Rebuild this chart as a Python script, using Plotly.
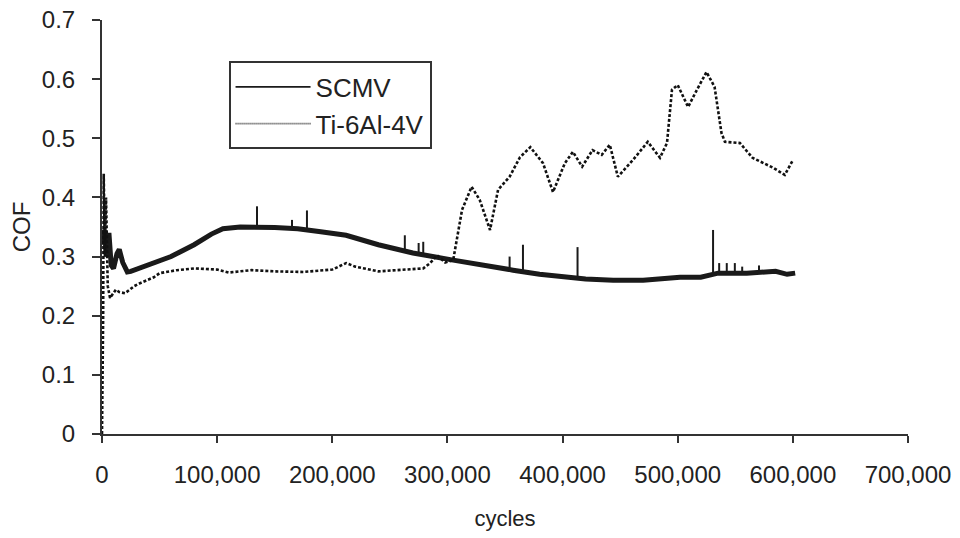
import plotly.graph_objects as go

# ---------------- data ----------------
scmv_x = [0, 2000, 4000, 6000, 8000, 10000, 13000, 15000, 18000, 22000, 25000,
          40000, 60000, 80000, 95000, 105000, 120000, 150000, 170000, 190000,
          212000, 240000, 270000, 305000, 330000, 357000, 380000, 400000,
          420000, 444000, 470000, 502000, 520000, 535000, 560000, 585000,
          595000, 602000]
scmv_y = [0.32, 0.345, 0.30, 0.34, 0.285, 0.28, 0.305, 0.312, 0.29, 0.274, 0.275,
          0.285, 0.30, 0.32, 0.338, 0.347, 0.35, 0.349, 0.347, 0.342,
          0.336, 0.32, 0.306, 0.294, 0.285, 0.277, 0.27, 0.266,
          0.262, 0.26, 0.26, 0.265, 0.265, 0.272, 0.272, 0.275,
          0.27, 0.272]

spike_x = [134600, 165000, 178000, 263000, 275000, 279000, 354000, 365600,
           413000, 530700, 536000, 542600, 549600, 556000, 570600]
spike_base = [0.349, 0.347, 0.345, 0.31, 0.305, 0.303, 0.277, 0.274,
              0.264, 0.27, 0.271, 0.272, 0.272, 0.272, 0.273]
spike_top = [0.385, 0.362, 0.378, 0.336, 0.323, 0.325, 0.300, 0.320,
             0.316, 0.345, 0.289, 0.289, 0.289, 0.283, 0.285]

ti_x = [0, 1000, 1500, 2500, 3500, 5000, 7000, 9000, 12000, 15000, 20000,
        28000, 33000, 45000, 50000, 65000, 80000, 100000, 110000, 130000,
        150000, 175000, 200000, 212000, 220000, 240000, 260000, 279000,
        285000, 291000, 298000, 305000, 312700, 321000, 328000, 337000,
        344000, 354000, 363000, 372000, 383000, 391700, 402000, 409000,
        417000, 426000, 434000, 441000, 448000, 461000, 474000, 484600,
        490700, 495000, 500000, 509000, 516700, 525000, 532000, 538000,
        541000, 554000, 565000, 583000, 593000, 600000]
ti_y = [0.0, 0.20, 0.44, 0.30, 0.40, 0.25, 0.23, 0.235, 0.244, 0.24, 0.238,
        0.25, 0.255, 0.265, 0.272, 0.277, 0.28, 0.278, 0.273, 0.277,
        0.275, 0.274, 0.278, 0.289, 0.283, 0.275, 0.277, 0.28,
        0.289, 0.302, 0.29, 0.294, 0.379, 0.418, 0.396, 0.345,
        0.413, 0.435, 0.468, 0.485, 0.458, 0.409, 0.458, 0.477,
        0.452, 0.480, 0.472, 0.489, 0.435, 0.463, 0.494, 0.467,
        0.492, 0.582, 0.590, 0.553, 0.582, 0.612, 0.587, 0.509,
        0.494, 0.492, 0.467, 0.450, 0.438, 0.463]

x_tickvals = [0, 100000, 200000, 300000, 400000, 500000, 600000, 700000]
x_ticktext = ["0", "100,000", "200,000", "300,000", "400,000", "500,000",
              "600,000", "700,000"]
y_tickvals = [0, 0.1, 0.2, 0.3, 0.4, 0.5, 0.6, 0.7]
y_ticktext = ["0", "0.1", "0.2", "0.3", "0.4", "0.5", "0.6", "0.7"]

# ---------------- figure ----------------
FONT = "Liberation Sans, Arial, sans-serif"
INK = "#1a1a1a"
fig = go.Figure()

# spikes of SCMV (segments separated by None)
sx, sy = [], []
for x, b, t in zip(spike_x, spike_base, spike_top):
    sx += [x, x, None]
    sy += [b, t, None]

fig.add_trace(go.Scatter(x=sx, y=sy, mode="lines", showlegend=False,
                         line=dict(color=INK, width=2), hoverinfo="skip"))
fig.add_trace(go.Scatter(x=scmv_x, y=scmv_y, mode="lines", name="SCMV",
                         showlegend=False,
                         line=dict(color=INK, width=5)))
fig.add_trace(go.Scatter(x=ti_x, y=ti_y, mode="lines", name="Ti-6Al-4V",
                         showlegend=False,
                         line=dict(color="#111", width=2.6, dash="3px,2px")))
# legend entries (thin lines as in the reference legend)
fig.add_trace(go.Scatter(x=[None], y=[None], mode="lines", name="SCMV",
                         legendgroup="a", line=dict(color=INK, width=1.8)))
fig.add_trace(go.Scatter(x=[None], y=[None], mode="lines", name="Ti-6Al-4V",
                         legendgroup="b",
                         line=dict(color="#333", width=1.8, dash="1px,1px")))

fig.update_layout(
    width=960, height=538,
    margin=dict(l=102, r=52, t=20, b=104, autoexpand=False),
    paper_bgcolor="white", plot_bgcolor="white",
    font=dict(family=FONT, size=24, color="#222"),
    showlegend=True,
    legend=dict(x=0.157, y=0.9, xanchor="left", yanchor="top",
                bordercolor="#333", borderwidth=2, bgcolor="white",
                font=dict(size=26, family=FONT, color="#222"),
                itemwidth=75, traceorder="grouped", tracegroupgap=0),
)
fig.update_xaxes(range=[0, 700000], tickvals=x_tickvals, ticktext=x_ticktext,
                 automargin=False, ticklabeloverflow="allow",
                 showgrid=False, zeroline=False, showline=True,
                 linecolor="#333", linewidth=2, ticks="outside", ticklen=7,
                 tickcolor="#333", tickwidth=2, ticklabelstandoff=11,
                 tickfont=dict(size=24, family=FONT, color="#222"),
                 title=dict(text="cycles", standoff=24,
                            font=dict(size=22, family=FONT, color="#222")))
fig.update_yaxes(range=[0, 0.7], tickvals=y_tickvals, ticktext=y_ticktext,
                 automargin=False, ticklabeloverflow="allow",
                 showgrid=False, zeroline=False, showline=True,
                 linecolor="#333", linewidth=2, ticks="outside", ticklen=8,
                 tickcolor="#333", tickwidth=2, ticklabelstandoff=12,
                 tickfont=dict(size=24, family=FONT, color="#222"),
                 title=dict(text="COF", standoff=4,
                            font=dict(size=24, family=FONT, color="#222")))

fig.write_html("out.html",
               config={"displayModeBar": False},
               post_script="document.body.style.margin='0';"
                           "document.body.style.overflow='hidden';")
